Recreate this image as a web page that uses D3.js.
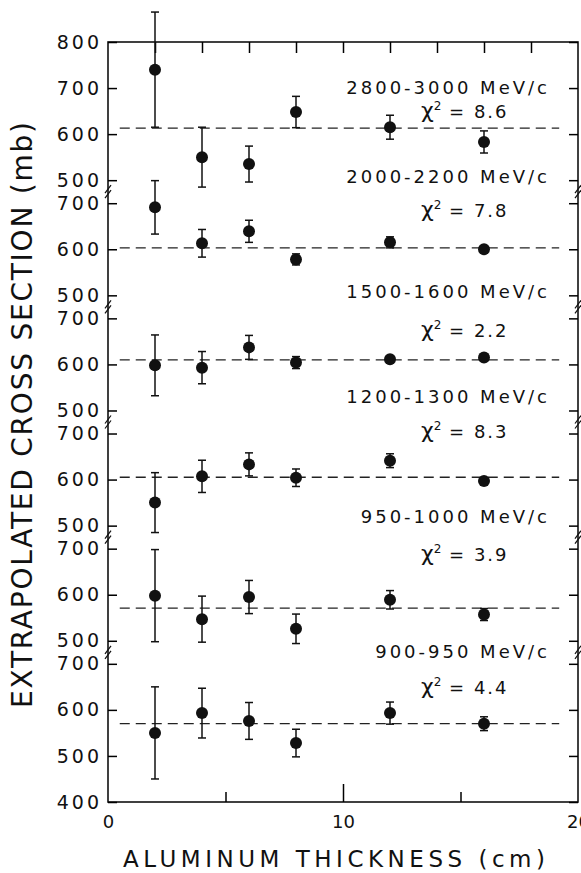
<!DOCTYPE html>
<head>
  <script src="https://cdnjs.cloudflare.com/ajax/libs/d3/7.8.5/d3.min.js"></script>
  <style>
    body { margin: 0; background: #fff }
    text { font-family: "DejaVu Sans", sans-serif; fill: #111 }
  </style>
</head>

<body>
  <div id="chart"></div>

  <script>
    // thickness of the aluminum targets (cm)
    const thickness = [2, 4, 6, 8, 12, 16];

    // momentum bins, top to bottom
    const momenta = ['2800-3000', '2000-2200', '1500-1600', '1200-1300', '950-1000', '900-950'];
    const chi2 = ['8.6', '7.8', '2.2', '8.3', '3.9', '4.4'];
    const fitLevel = [613, 603, 610, 605, 571, 570];

    // extrapolated cross section (mb) and error per bin
    const sigma2800 = [740, 550, 535, 648, 615, 583];
    const err2800 = [125, 65, 39, 34, 26, 24];
    const sigma2000 = [691, 613, 639, 578, 615, 600];
    const err2000 = [58, 30, 24, 12, 12, 4];
    const sigma1500 = [598, 593, 637, 604, 611, 615];
    const err1500 = [66, 35, 26, 13, 4, 4];
    const sigma1200 = [550, 607, 633, 604, 641, 597];
    const err1200 = [65, 35, 25, 19, 15, 4];
    const sigma950 = [598, 547, 595, 526, 589, 557];
    const err950 = [100, 50, 36, 32, 20, 13];
    const sigma900 = [550, 593, 576, 528, 593, 570];
    const err900 = [100, 54, 40, 30, 24, 15];

    const sigmas = [sigma2800, sigma2000, sigma1500, sigma1200, sigma950, sigma900];
    const errors = [err2800, err2000, err1500, err1200, err950, err900];

    // layout
    const W = 581, H = 873;
    const plotL = 108, plotR = 578, plotT = 42, plotB = 802;
    const labelDy = [6, -20, -20, -31, -26, -6];   // momentum label, px from the 700 tick
    const chiDy = [30, 14, 19, 4, 12, 30];

    const svg = d3.select('#chart').append('svg')
      .attr('width', W)
      .attr('height', H);

    svg.append('rect').attr('width', W).attr('height', H).attr('fill', '#fff');

    const x = d3.scaleLinear().domain([0, 20]).range([plotL, plotR]);

    // each panel shows a slice of the cross-section axis; stacked with breaks
    const spans = momenta.map((m, i) => [i === momenta.length - 1 ? 400 : 475, i === 0 ? 800 : 725]);
    const total = d3.sum(spans, s => s[1] - s[0]);
    const k = (plotB - plotT) / total;
    let acc = plotT;
    const ys = spans.map(s => {
      const y = d3.scaleLinear().domain(s).range([acc + (s[1] - s[0]) * k, acc]);
      acc += (s[1] - s[0]) * k;
      return y;
    });

    // frame
    svg.append('rect')
      .attr('x', plotL).attr('y', plotT)
      .attr('width', plotR - plotL).attr('height', plotB - plotT)
      .attr('fill', 'none').attr('stroke', '#111').attr('stroke-width', 1.6);

    // top ticks
    svg.append('g')
      .attr('transform', `translate(0,${plotT})`)
      .call(d3.axisTop(x).tickValues(d3.range(2, 20, 2)).tickSize(-11).tickFormat(''))
      .call(g => g.select('.domain').remove())
      .selectAll('line').attr('stroke-width', 1.5);

    // bottom ticks + labels
    svg.append('g')
      .attr('transform', `translate(0,${plotB})`)
      .call(d3.axisBottom(x).tickValues([5, 15]).tickSize(-10).tickFormat(''))
      .call(g => g.select('.domain').remove())
      .selectAll('line').attr('stroke-width', 1.5);
    svg.append('g')
      .attr('transform', `translate(0,${plotB})`)
      .call(d3.axisBottom(x).tickValues([10]).tickSize(-18).tickFormat(''))
      .call(g => g.select('.domain').remove())
      .selectAll('line').attr('stroke-width', 1.5);
    svg.append('g')
      .attr('transform', `translate(0,${plotB})`)
      .call(d3.axisBottom(x).tickValues([0, 10, 20]).tickSize(0).tickPadding(13).tickFormat(d3.format('d')))
      .call(g => g.select('.domain').remove())
      .selectAll('text')
      .style('font-size', '18px').attr('fill', '#111');

    ys.forEach((y, i) => {
      const s = spans[i];
      const tv = d3.range(Math.ceil(s[0] / 100) * 100, s[1] + 1, 100);

      svg.append('g')
        .attr('transform', `translate(${plotL},0)`)
        .call(d3.axisLeft(y).tickValues(tv).tickSize(-9).tickPadding(6).tickFormat(d3.format('d')))
        .call(g => g.select('.domain').remove())
        .call(g => g.selectAll('line').attr('stroke-width', 1.5))
        .selectAll('text')
        .style('font-size', '19px').style('letter-spacing', '3px').attr('fill', '#111');

      svg.append('g')
        .attr('transform', `translate(${plotR},0)`)
        .call(d3.axisRight(y).tickValues(tv).tickSize(-9).tickFormat(''))
        .call(g => g.select('.domain').remove())
        .selectAll('line').attr('stroke-width', 1.5);

      // axis breaks
      if (i > 0) {
        const yb = y(s[1]);
        [plotL, plotR].forEach(ax => {
          [-2.5, 2.5].forEach(o => {
            svg.append('line')
              .attr('x1', ax - 3).attr('y1', yb + o + 4)
              .attr('x2', ax + 3).attr('y2', yb + o - 4)
              .attr('stroke', '#111').attr('stroke-width', 1.2);
          });
        });
      }

      // fitted constant
      svg.append('line')
        .attr('x1', x(0.5)).attr('x2', x(19.2))
        .attr('y1', y(fitLevel[i])).attr('y2', y(fitLevel[i]))
        .attr('stroke', '#222').attr('stroke-width', 1.3)
        .attr('stroke-dasharray', '10,6');

      const pts = thickness.map((t, j) => ({ t, v: sigmas[i][j], e: errors[i][j] }));
      const g = svg.append('g');
      const bars = pts.filter(d => d.e > 6);
      g.selectAll('line.bar').data(bars).join('line')
        .attr('x1', d => x(d.t)).attr('x2', d => x(d.t))
        .attr('y1', d => y(d.v + d.e)).attr('y2', d => y(d.v - d.e))
        .attr('stroke', '#111').attr('stroke-width', 1.5);
      [1, -1].forEach(sg => {
        g.append('g').selectAll('line').data(bars).join('line')
          .attr('x1', d => x(d.t) - 4).attr('x2', d => x(d.t) + 4)
          .attr('y1', d => y(d.v + sg * d.e))
          .attr('y2', d => y(d.v + sg * d.e))
          .attr('stroke', '#111').attr('stroke-width', 1.5);
      });
      g.selectAll('circle').data(pts).join('circle')
        .attr('cx', d => x(d.t)).attr('cy', d => y(d.v))
        .attr('r', 6).attr('fill', '#111');

      // labels
      svg.append('text')
        .attr('x', 550).attr('y', y(700) + labelDy[i])
        .attr('text-anchor', 'end')
        .style('font-size', '18px').style('letter-spacing', '3px')
        .text(`${momenta[i]}  MeV/c`);

      const t = svg.append('text')
        .attr('x', 421).attr('y', y(700) + chiDy[i])
        .style('font-size', '18px');
      t.append('tspan').style('font-size', '22px').text('\u03C7');
      t.append('tspan').attr('dy', -8).style('font-size', '12px').text('2');
      t.append('tspan').attr('dy', 8).style('letter-spacing', '2px').text(` = ${chi2[i]}`);
    });

    // axis titles
    svg.append('text')
      .attr('transform', `translate(32,${(122 + 708) / 2}) rotate(-90)`)
      .attr('text-anchor', 'middle')
      .attr('textLength', 586).attr('lengthAdjust', 'spacing')
      .style('font-size', '28px')
      .text('EXTRAPOLATED  CROSS  SECTION  (mb)');

    svg.append('text')
      .attr('x', (123 + 545) / 2).attr('y', 867)
      .attr('text-anchor', 'middle')
      .attr('textLength', 422).attr('lengthAdjust', 'spacing')
      .style('font-size', '23px')
      .text('ALUMINUM  THICKNESS  (cm)');
  </script>
</body>
